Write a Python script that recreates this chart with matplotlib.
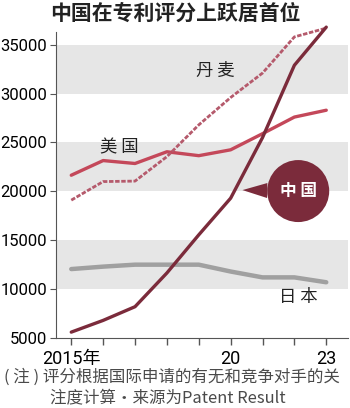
import matplotlib
matplotlib.use('Agg')
import matplotlib.pyplot as plt

plt.rcParams['font.family'] = ['Roboto', 'Noto Sans CJK SC', 'DejaVu Sans']

# data
years = [2015, 2016, 2017, 2018, 2019, 2020, 2021, 2022, 2023]
china = [5600, 6800, 8200, 11650, 15550, 19300, 25500, 32900, 36800]
denmark = [19100, 21000, 21050, 23550, 26800, 29600, 32100, 35800, 36700]
usa = [21650, 23150, 22850, 24050, 23650, 24250, 25900, 27600, 28300]
japan = [12050, 12300, 12500, 12500, 12500, 11800, 11200, 11200, 10700]

yticks = [5000, 10000, 15000, 20000, 25000, 30000, 35000]
xtick_pos = [2015, 2020, 2023]
xtick_lab = ['2015年', '20', '23']
bands = [(10000, 15000), (20000, 25000), (30000, 35000)]

c_china = '#7b2b3b'
c_us = '#c4485a'
c_dk = '#b55a6c'
c_jp = '#a0a0a0'

fig = plt.figure(figsize=(3.5, 4.08), dpi=100)
ax = fig.add_axes([0.159, 0.1716, 0.836, 0.7667])

for lo, hi in bands:
    ax.axhspan(lo, hi, color='#e6e6e6', lw=0, zorder=0)

ax.plot(years, japan, color=c_jp, lw=3.2, solid_capstyle='round', zorder=2)
ax.plot(years, usa, color=c_us, lw=2.4, solid_capstyle='round', zorder=3)
ax.plot(years, denmark, color=c_dk, lw=2.0, ls=(0, (1.6, 0.6)), zorder=3)
ax.plot(years, china, color=c_china, lw=2.4, solid_capstyle='round', zorder=4)

ax.set_xlim(2014.51, 2023.69)
ax.set_ylim(5000, 37000)

ax.set_yticks(yticks)
ax.set_yticklabels([str(v) for v in yticks], fontsize=12)
ax.set_xticks(years)
ax.set_xticklabels(['' for y in years])
ax.tick_params(axis='y', length=4, direction='out', pad=2, color='#555555')
ax.tick_params(axis='x', length=5, direction='out', width=1, color='#555555')
for x, lab in zip(xtick_pos, xtick_lab):
    ax.text(x, 3800, lab, ha='center', va='top', fontsize=13)

for s in ['top', 'right']:
    ax.spines[s].set_visible(False)
ax.spines['left'].set_bounds(5000, 36300)
ax.spines['left'].set_color('#555555')
ax.spines['bottom'].set_color('#555555')

cjk = ['Noto Sans CJK SC', 'DejaVu Sans']
ax.text(2019.51, 32310, '丹 麦', fontsize=12.5, family=cjk, ha='center', va='center', color='#222222')
ax.text(2016.52, 24540, '美 国', fontsize=12.5, family=cjk, ha='center', va='center', color='#222222')
ax.text(2022.11, 9200, '日 本', fontsize=12.5, family=cjk, ha='center', va='center', color='#222222')

ax.annotate('中 国', xy=(2020.37, 20130), xytext=(2022.12, 20030),
            fontsize=12, family=cjk, weight='bold', color='white',
            ha='center', va='center', zorder=6,
            bbox=dict(boxstyle='circle,pad=0.75', fc=c_china, ec='none'),
            arrowprops=dict(arrowstyle='wedge,tail_width=0.9', fc=c_china, ec='none',
                            shrinkA=0, shrinkB=0))

fig.text(0.5, 0.968, '中国在专利评分上跃居首位', ha='center', va='center',
         fontsize=15, weight='bold', family=cjk, color='#222222')
fig.text(0.012, 0.075, '( 注 ) 评分根据国际申请的有无和竞争对手的关', ha='left', va='center',
         fontsize=11.9, family=cjk, color='#4a4a4a')
fig.text(0.143, 0.026, '注度计算・来源为Patent Result', ha='left', va='center',
         fontsize=11.9, family=cjk, color='#4a4a4a')

fig.savefig('out.png', dpi=100)
